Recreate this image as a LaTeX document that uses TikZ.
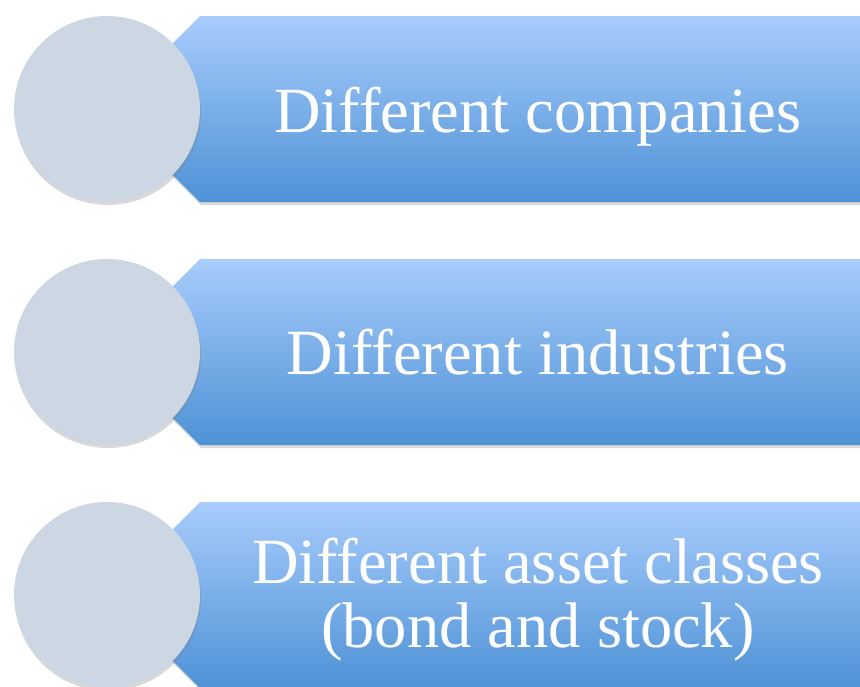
\documentclass[tikz,border=0pt]{standalone}
\usepackage{fontspec}
\setmainfont{Liberation Serif}
\usetikzlibrary{shadows}
\definecolor{bannertop}{RGB}{168,204,252}
\definecolor{bannerbottom}{RGB}{78,146,214}
\definecolor{discfill}{RGB}{205,215,228}

\begin{document}
\begin{tikzpicture}[x=1pt, y=-1pt,
  banner/.style={top color=bannertop, bottom color=bannerbottom, drop shadow={opacity=0.3, shadow xshift=1pt, shadow yshift=-3pt}},
  disc/.style={circle, fill=discfill, minimum size=186pt, inner sep=0pt, drop shadow={opacity=0.3, shadow xshift=1pt, shadow yshift=-3pt}},
  bannertext/.style={text=white, font=\fontsize{64.5}{64}\selectfont, align=center, inner sep=0pt}]
\useasboundingbox (0,0) rectangle (860,686);
\clip (0,0) rectangle (860,686);

\path[banner] (200,16) -- (880,16) -- (880,202) -- (200,202) -- (140,142) -- (140,76) -- cycle;
\node[disc] (companies circle) at (107,109) {};
\node[bannertext, anchor=base] (companies text) at (538,132) {Different companies};

\path[banner] (200,259) -- (880,259) -- (880,445) -- (200,445) -- (140,385) -- (140,319) -- cycle;
\node[disc] (industries circle) at (107,352) {};
\node[bannertext, anchor=base] (industries text) at (538,374) {Different industries};

\path[banner] (200,502) -- (880,502) -- (880,688) -- (200,688) -- (140,628) -- (140,562) -- cycle;
\node[disc] (asset classes circle) at (107,595) {};
\node[bannertext, anchor=base] (asset classes text) at (538,647) {Different asset classes\\(bond and stock)};
\end{tikzpicture}
\end{document}
